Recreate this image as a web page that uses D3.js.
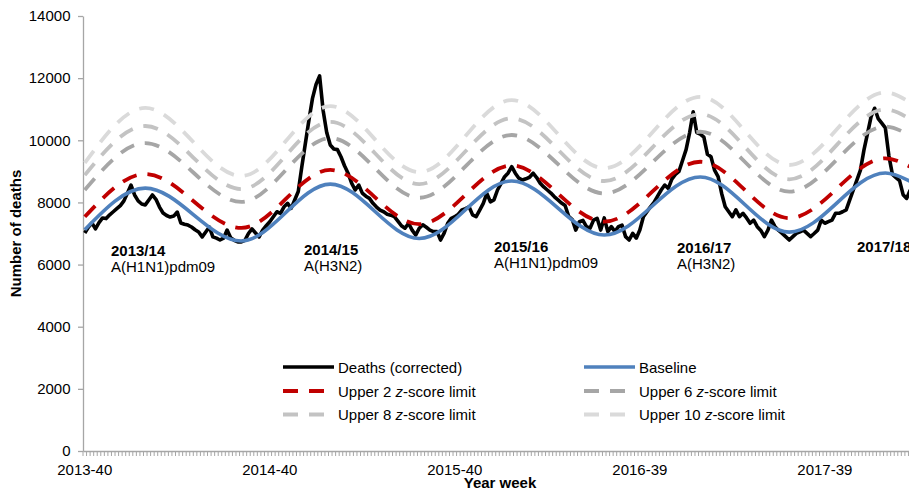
<!DOCTYPE html>
<html>
<head>
<meta charset="utf-8">
<script src="https://cdn.jsdelivr.net/npm/d3@7"></script>
<style>
  body { margin: 0; background: #fff; }
  svg { display: block; }
  text { font-family: "Liberation Sans", Arial, sans-serif; }
</style>
</head>
<body>
<svg id="chart" width="909" height="494"></svg>
<script>
// ISO week calendar covered by the series
const firstYear = 2013;
const firstWeek = 40;
const weeksPerYear = { 2013: 52, 2014: 52, 2015: 53, 2016: 52, 2017: 52, 2018: 52 };

// Weekly all-cause deaths (corrected for delay), from 2013-40
const deaths = [
  7015, 7200, 7340, 7150, 7350, 7500, 7480, 7600, 7700, 7800,
  7900, 8050, 8300, 8560, 8240, 8050, 7950, 7920, 8080, 8240,
  8100, 7850, 7660, 7580, 7530, 7560, 7690, 7340, 7300, 7270,
  7210, 7120, 7050, 6890, 7050, 7210, 6890, 6850, 6790, 6850,
  7110, 6860, 6780, 6730, 6730, 6780, 7000, 7150, 7015, 6890,
  7110, 7250, 7380, 7540, 7700, 7650, 7860, 7970, 7810, 8080,
  8350, 9150, 9900, 10650, 11350, 11800, 12070, 10950, 10250, 9850,
  9720, 9700, 9470, 9180, 8940, 8620, 8400, 8560, 8300, 8200,
  8130, 7970, 7850, 7750, 7700, 7620, 7590, 7540, 7400, 7250,
  7170, 7330, 7110, 6950, 7170, 7280, 7200, 7110, 7060, 7060,
  6790, 7010, 7330, 7490, 7540, 7620, 7760, 7800, 7860, 7600,
  7540, 7750, 7970, 8290, 8020, 8080, 8400, 8610, 8830, 8950,
  9150, 8940, 8780, 8720, 8760, 8810, 8940, 8800, 8620, 8500,
  8400, 8300, 8180, 8080, 7980, 7900, 7550, 7450, 7110, 7380,
  7420, 7220, 7170, 7430, 7490, 7110, 7500, 7060, 7220, 7060,
  7220, 7270, 6900, 6790, 7005, 6850, 7110, 7540, 7700, 7860,
  8000, 8200, 8400, 8560, 8450, 8750, 8900, 9000, 9350, 9700,
  10250, 10920, 10250, 10200, 10100, 9550, 9470, 9040, 8830, 8290,
  7860, 7700, 7540, 7760, 7540, 7650, 7500, 7330, 7430, 7220,
  7100, 6900, 7110, 7430, 7220, 7100, 7005, 6900, 6790, 6900,
  7005, 7050, 7110, 7005, 6900, 7000, 7110, 7430, 7330, 7380,
  7430, 7650, 7650, 7700, 7760, 8080, 8400, 8720, 9040, 9690,
  10220, 10760, 11030, 10700, 10550, 10400, 9500, 8900, 8800, 8700,
  8250, 8130, 8400
];

// Seasonal baseline and z-score limits, given at their seasonal turning points
const limitWeeks = ["2013-40", "2014-05", "2014-32", "2015-05", "2015-30", "2016-03",
                    "2016-29", "2017-04", "2017-29", "2018-04", "2018-11"];
const baseline = [7120, 8460, 6760, 8590, 6840, 8690, 6950, 8820, 7045, 8945, 8680];
const upper2   = [7540, 8915, 7180, 9045, 7300, 9190, 7380, 9310, 7495, 9420, 9150];
const upper6   = [8400, 9910, 8015, 10070, 8150, 10170, 8290, 10275, 8345, 10440, 10150];
const upper8   = [8880, 10460, 8430, 10590, 8590, 10705, 8690, 10840, 8745, 10990, 10680];
const upper10  = [9270, 11040, 8850, 11100, 8975, 11295, 9100, 11400, 9205, 11540, 11210];

const xTickLabels = ["2013-40", "2014-40", "2015-40", "2016-39", "2017-39"];
const yTickValues = [0, 2000, 4000, 6000, 8000, 10000, 12000, 14000];

const seasonNames = ["2013/14", "2014/15", "2015/16", "2016/17", "2017/18"];
const seasonStrains = ["A(H1N1)pdm09", "A(H3N2)", "A(H1N1)pdm09", "A(H3N2)", ""];

const seriesNames = ["Deaths (corrected)", "Baseline", "Upper 2 z-score limit",
                     "Upper 6 z-score limit", "Upper 8 z-score limit", "Upper 10 z-score limit"];

// Year-week labels for every point of the weekly series
const weeks = [];
{
  let yr = firstYear, wk = firstWeek;
  for (let i = 0; i < deaths.length; i++) {
    weeks.push(yr + "-" + String(wk).padStart(2, "0"));
    wk++;
    if (wk > weeksPerYear[yr]) { wk = 1; yr++; }
  }
}

const svg = d3.select("#chart");
const plotLeft = 83, plotTop = 16, plotBottom = 451;
const step = 3.558;

const x = d3.scaleBand().domain(weeks).range([plotLeft, plotLeft + weeks.length * step]).padding(0);
const y = d3.scaleLinear().domain([0, 14000]).range([plotBottom, plotTop]);
const cx = w => x(w) + x.bandwidth() / 2;

svg.append("rect").attr("width", 909).attr("height", 494).attr("fill", "#fff");

svg.append("clipPath").attr("id", "plot")
  .append("rect").attr("x", plotLeft).attr("y", 0).attr("width", 909 - plotLeft).attr("height", plotBottom);

// ---- axes ----
const axisColor = "#a6a6a6";

const yAxis = svg.append("g")
  .attr("transform", `translate(${plotLeft},0)`)
  .call(d3.axisLeft(y).tickValues(yTickValues).tickFormat(d3.format("d"))
    .tickSize(5).tickSizeOuter(0).tickPadding(7.5));
yAxis.select(".domain").attr("stroke", axisColor).attr("stroke-width", 1.3);
yAxis.selectAll(".tick line").attr("stroke", axisColor).attr("stroke-width", 1.3);
yAxis.selectAll(".tick text").attr("font-size", 15).attr("fill", "#000")
  .attr("font-family", "Liberation Sans, Arial, sans-serif");

const xAxis = svg.append("g")
  .attr("transform", `translate(0,${plotBottom})`)
  .call(d3.axisBottom(x).tickValues(xTickLabels).tickSize(0).tickPadding(13).tickSizeOuter(0));
xAxis.select(".domain").attr("stroke", axisColor).attr("stroke-width", 1.3);
xAxis.selectAll(".tick text").attr("font-size", 15).attr("fill", "#000")
  .attr("font-family", "Liberation Sans, Arial, sans-serif");

// weekly tick marks on category boundaries
svg.append("g").selectAll("line")
  .data(weeks.concat([null]))
  .join("line")
  .attr("x1", d => d ? x(d) : x.range()[1])
  .attr("x2", d => d ? x(d) : x.range()[1])
  .attr("y1", plotBottom).attr("y2", plotBottom + 5)
  .attr("stroke", axisColor).attr("stroke-width", 1);

svg.append("text")
  .attr("transform", "translate(21,233.5) rotate(-90)")
  .attr("text-anchor", "middle")
  .attr("font-size", 15).attr("font-weight", "bold")
  .text("Number of deaths");

svg.append("text")
  .attr("x", 500).attr("y", 488)
  .attr("text-anchor", "middle")
  .attr("font-size", 15).attr("font-weight", "bold")
  .text("Year week");

// ---- series ----
const plot = svg.append("g").attr("clip-path", "url(#plot)");

const weeklyLine = d3.line()
  .x((d, i) => cx(weeks[i]))
  .y(d => y(d));

const smoothLine = d3.line()
  .x((d, i) => cx(limitWeeks[i]))
  .y(d => y(d))
  .curve(d3.curveMonotoneX);

const styles = [
  { color: "#000000", width: 3.6, dash: null },
  { color: "#4f81bd", width: 3.6, dash: null },
  { color: "#c00000", width: 3.8, dash: "15 11" },
  { color: "#a6a6a6", width: 3.8, dash: "15 11" },
  { color: "#c3c3c3", width: 3.8, dash: "15 11" },
  { color: "#dadada", width: 3.8, dash: "15 11" }
];

const seriesPaths = [
  weeklyLine(deaths),
  smoothLine(baseline),
  smoothLine(upper2),
  smoothLine(upper6),
  smoothLine(upper8),
  smoothLine(upper10)
];

seriesPaths.forEach((p, i) => {
  plot.append("path")
    .attr("d", p)
    .attr("fill", "none")
    .attr("stroke", styles[i].color)
    .attr("stroke-width", styles[i].width)
    .attr("stroke-linejoin", "round")
    .attr("stroke-dasharray", styles[i].dash);
});

// ---- season annotations ----
const notePos = [[111, 256], [304, 255], [494, 252], [677, 253], [857, 252]];
seasonNames.forEach((name, i) => {
  svg.append("text").attr("x", notePos[i][0]).attr("y", notePos[i][1])
    .attr("font-size", 15).attr("font-weight", "bold").text(name);
  if (seasonStrains[i]) {
    svg.append("text").attr("x", notePos[i][0]).attr("y", notePos[i][1] + 16)
      .attr("font-size", 15).text(seasonStrains[i]);
  }
});

// ---- legend ----
const legendCols = [283, 584];
const legendRows = [367, 391, 414.5];
seriesNames.forEach((name, i) => {
  const lx = legendCols[i % 2], ly = legendRows[Math.floor(i / 2)];
  svg.append("line")
    .attr("x1", lx).attr("x2", lx + 51).attr("y1", ly).attr("y2", ly)
    .attr("stroke", styles[i].color).attr("stroke-width", styles[i].width)
    .attr("stroke-dasharray", styles[i].dash);
  const t = svg.append("text").attr("x", lx + 55).attr("y", ly + 5.5).attr("font-size", 15);
  const parts = name.split(" z-");
  if (parts.length === 2) {
    t.append("tspan").text(parts[0] + " ");
    t.append("tspan").attr("font-style", "italic").text("z");
    t.append("tspan").text("-" + parts[1]);
  } else {
    t.text(name);
  }
});
</script>
</body>
</html>
